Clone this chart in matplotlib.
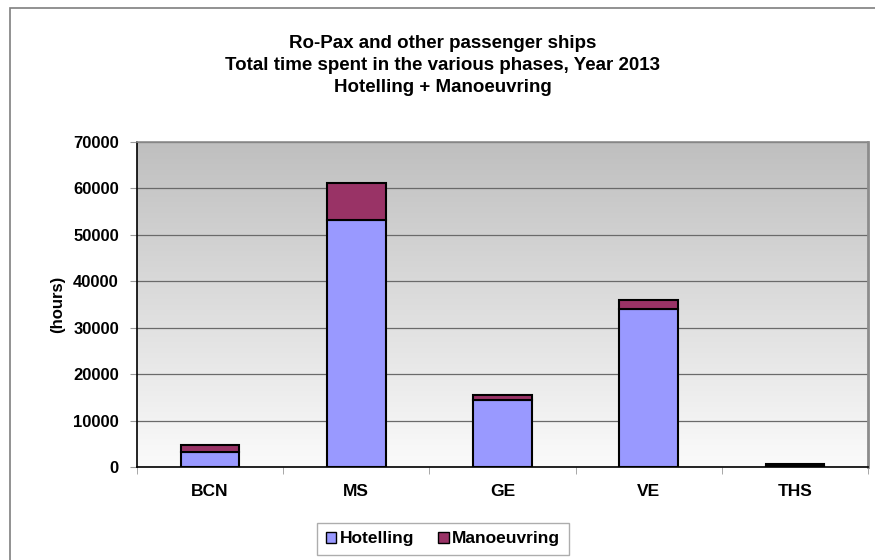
import matplotlib.pyplot as plt
import numpy as np
from matplotlib.patches import Rectangle
from matplotlib.colors import LinearSegmentedColormap

plt.rcParams['font.family'] = ['Liberation Sans', 'DejaVu Sans']
plt.rcParams['font.weight'] = 'bold'

ports = ['BCN', 'MS', 'GE', 'VE', 'THS']
hotelling = [3300, 53200, 14400, 34050, 250]
manoeuvring = [1450, 8000, 1150, 1950, 300]
yticks = [0, 10000, 20000, 30000, 40000, 50000, 60000, 70000]
title_lines = ['Ro-Pax and other passenger ships',
               'Total time spent in the various phases, Year 2013',
               'Hotelling + Manoeuvring']

W, H = 875, 560
fig = plt.figure(figsize=(W / 100, H / 100), dpi=100)
ax = fig.add_axes([137 / W, 1 - 467 / H, 731 / W, 325 / H])

# outer chart border (runs off the right and bottom edges)
fig.patches.append(Rectangle((9.5 / W, -0.05), 1.0, 1 - 7.5 / H + 0.05, transform=fig.transFigure,
                             fill=False, edgecolor='#7f7f7f', linewidth=1.2, clip_on=False))

# gray-to-white gradient behind the bars
cmap = LinearSegmentedColormap.from_list('bg', ['#fbfbfb', '#bfbfbf'])
grad = np.linspace(0, 1, 256).reshape(-1, 1)
ax.imshow(grad, extent=[-0.5, 4.5, 0, 70000], aspect='auto', cmap=cmap,
          origin='lower', zorder=0)

x = np.arange(len(ports))
ax.bar(x, hotelling, width=0.40, color='#9999ff', edgecolor='black', linewidth=1.5,
       label='Hotelling', zorder=3)
ax.bar(x, manoeuvring, width=0.40, bottom=hotelling, color='#993366', edgecolor='black',
       linewidth=1.5, label='Manoeuvring', zorder=3)

ax.set_xlim(-0.5, 4.5)
ax.set_ylim(0, 70000)
ax.set_yticks(yticks)
ax.set_yticklabels([str(v) for v in yticks], fontsize=12, fontweight='bold')
ax.yaxis.grid(True, color='#6a6a6a', linewidth=0.9, zorder=1)
ax.set_axisbelow(True)

ax.set_xticks(x)
ax.set_xticklabels(ports, fontsize=12.5, fontweight='bold')
ax.tick_params(axis='x', length=0, pad=12)
ax.set_xticks(np.arange(-0.5, 5, 1), minor=True)
ax.tick_params(axis='x', which='minor', length=5, color='#999999')
ax.tick_params(axis='y', length=5, color='#999999', pad=8)

ax.spines['top'].set_color('#8c8c8c')
ax.spines['right'].set_color('#8c8c8c')
ax.spines['top'].set_linewidth(1.2)
ax.spines['right'].set_linewidth(2.0)
ax.spines['left'].set_linewidth(1.2)
ax.spines['bottom'].set_linewidth(1.2)

ax.set_ylabel('(hours)', fontsize=12, fontweight='bold', labelpad=6)

for i, line in enumerate(title_lines):
    fig.text(0.5 * (W + 10) / W, 1 - (48 + 22 * i) / H, line, ha='center', va='baseline',
             fontsize=13.5, fontweight='bold')

leg = ax.legend(loc='center', bbox_to_anchor=(443 / W, 1 - 539 / H), bbox_transform=fig.transFigure,
                ncol=2, fontsize=12.5, frameon=True, fancybox=False, handlelength=0.6,
                handleheight=0.6, handletextpad=0.2, columnspacing=1.4, borderpad=0.5,
                borderaxespad=0)
leg.get_frame().set_edgecolor('#999999')
leg.get_frame().set_linewidth(1.0)
for h in leg.legend_handles:
    h.set_linewidth(1.0)

fig.savefig('out.png', dpi=100)
